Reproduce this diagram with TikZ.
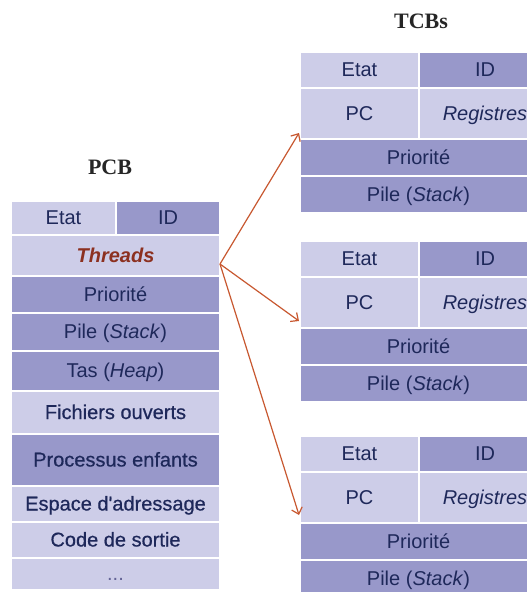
\documentclass[tikz,border=0pt]{standalone}
\usepackage{fontspec}
\newfontfamily\cellfont{Liberation Sans}
\newfontfamily\cellheavy{Liberation Sans}[FakeBold=0.6]
\newfontfamily\titlefont{Liberation Serif}
\usetikzlibrary{arrows.meta}

\definecolor{cellLight}{RGB}{205,205,232}
\definecolor{cellDark}{RGB}{152,152,202}
\definecolor{cellText}{RGB}{30,40,90}
\definecolor{threadRed}{RGB}{140,48,32}
\definecolor{arrowRed}{RGB}{200,88,48}
\definecolor{dotGrey}{RGB}{100,100,150}

\begin{document}
\begin{tikzpicture}[x=1pt,y=-1pt,
  cell/.style={draw=white, line width=1.6pt, anchor=north west, inner sep=0pt,
    outer sep=0pt, text=cellText, text height=14pt, text depth=1pt,
    font=\cellfont\fontsize{20}{22}\selectfont},
  lt/.style={cell, fill=cellLight},
  dk/.style={cell, fill=cellDark},
  heavy/.style={font=\cellheavy\fontsize{20}{22}\selectfont},
  link/.style={draw=arrowRed, line width=1.2pt,
    -{Straight Barb[length=6pt,width=11pt]}},
  title/.style={font=\titlefont\bfseries\fontsize{22}{24}\selectfont,
    text=black!85}
]
\useasboundingbox (0,0) rectangle (527,592);
\clip (0,0) rectangle (527,592);
\fill[white] (0,0) rectangle (527,592);

% ---- process control block ----
\node[title] (pcbTitle) at (110,167) {PCB};
\node[lt, minimum width=105pt, minimum height=34pt] (pEtat) at (11,201) {Etat};
\node[dk, minimum width=104pt, minimum height=34pt] (pID) at (116,201) {ID};
\node[lt, minimum width=209pt, minimum height=41pt] (pThr) at (pEtat.south west)
  {\bfseries\itshape\color{threadRed}Threads};
\node[dk, minimum width=209pt, minimum height=37pt] (pPrio) at (pThr.south west) {Priorité};
\node[dk, minimum width=209pt, minimum height=38pt] (pPile) at (pPrio.south west) {Pile (\textit{Stack})};
\node[dk, minimum width=209pt, minimum height=40pt] (pTas) at (pPile.south west) {Tas (\textit{Heap})};
\node[lt, heavy, minimum width=209pt, minimum height=43pt] (pFich) at (pTas.south west) {Fichiers ouverts};
\node[dk, heavy, minimum width=209pt, minimum height=52pt] (pProc) at (pFich.south west) {Processus enfants};
\node[lt, heavy, minimum width=209pt, minimum height=36pt] (pEsp) at (pProc.south west) {Espace d'adressage};
\node[lt, heavy, minimum width=209pt, minimum height=36pt] (pCode) at (pEsp.south west) {Code de sortie};
\node[lt, minimum width=209pt, minimum height=32pt, text=dotGrey] (pDots) at (pCode.south west) {...};

% ---- thread control blocks ----
\node[title] (tcbTitle) at (421,21) {TCBs};
\foreach \i/\y in {1/52, 2/241, 3/436} {
  \node[lt, minimum width=119pt, minimum height=36pt] (t\i etat) at (300,\y) {Etat};
  \node[dk, minimum width=132pt, minimum height=36pt] (t\i id) at (t\i etat.north east) {ID};
  \node[lt, minimum width=119pt, minimum height=51pt] (t\i pc) at (t\i etat.south west) {PC};
  \node[lt, minimum width=132pt, minimum height=51pt] (t\i reg) at (t\i pc.north east) {\textit{Registres}};
  \node[dk, minimum width=237pt, minimum height=37pt] (t\i prio) at (t\i pc.south west) {Priorité};
  \node[dk, minimum width=237pt, minimum height=37pt] (t\i pile) at (t\i prio.south west) {Pile (\textit{Stack})};
}

% ---- links from the thread list to each TCB ----
\coordinate (src) at (220,264);
\coordinate (dst1) at (299,133);
\coordinate (dst2) at (299,321);
\coordinate (dst3) at (299,515);
\foreach \k in {1,2,3} \draw[link] (src) -- (dst\k);
\end{tikzpicture}
\end{document}
